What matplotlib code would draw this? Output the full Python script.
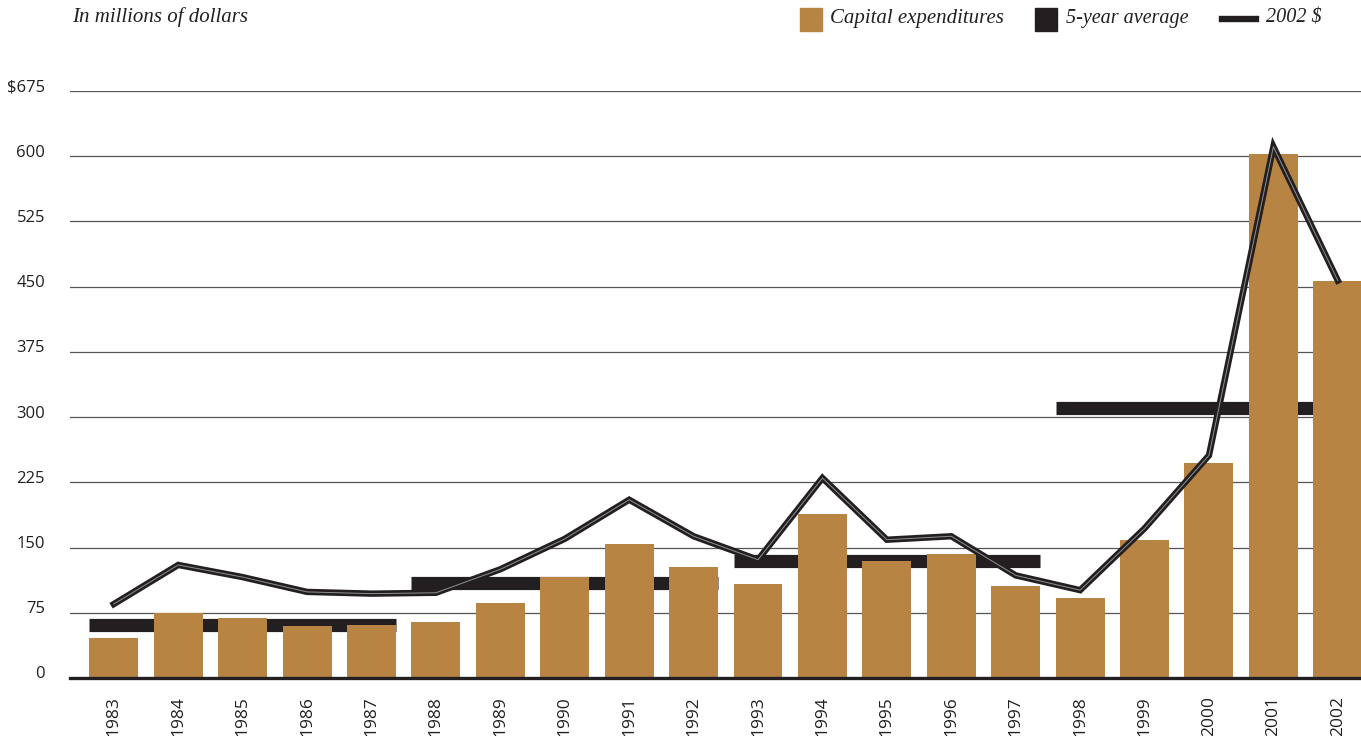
import numpy as np
import matplotlib
matplotlib.use("Agg")
from matplotlib import pyplot as plt
from matplotlib.patches import Rectangle
from matplotlib.lines import Line2D
from matplotlib.transforms import ScaledTranslation

years = [str(y) for y in range(1983, 2003)]
capex = [46, 75, 69, 60, 61, 64, 86, 116, 154, 128,
         108, 189, 135, 143, 106, 92, 159, 247, 603, 457]
real_2002 = [85, 130, 116, 99, 97, 98, 125, 160, 205, 163,
             136, 230, 159, 163, 118, 101, 172, 256, 611, 457]
avg_periods = [(0, 4), (5, 9), (10, 14), (15, 19)]
avg_values = [61, 109, 135, 310]
yticks = [0, 75, 150, 225, 300, 375, 450, 525, 600, 675]
ytick_labels = ["0", "75", "150", "225", "300", "375", "450", "525", "600", "$675"]

brown = "#B88444"
dark = "#231F20"
bar_w = 0.76

fig = plt.figure(figsize=(13.61, 7.36), dpi=100)
ax = fig.add_axes([70 / 1361, 1 - 678 / 736, 1 - 70 / 1361, (678 - 91) / 736])

x = np.arange(len(years))

# grid lines
for v in yticks[1:]:
    ax.axhline(v, color="#555555", lw=0.9, zorder=0)

# 5-year averages (behind bars)
for (a, b), v in zip(avg_periods, avg_values):
    ax.hlines(v, x[a] - bar_w / 2, x[b] + bar_w / 2, color=dark, lw=9.5, zorder=1)

ax.bar(x, capex, width=bar_w, color=brown, zorder=2)

# double line for 2002 dollars
ax.plot(x, real_2002, color=dark, lw=4.6, zorder=3, solid_joinstyle="miter")
ax.plot(x, real_2002, color="#909090", lw=0.7, zorder=4)

ax.set_xlim(-0.68, 19.36)
ax.set_ylim(0, 675)
ax.set_yticks(yticks)
ax.set_yticklabels(ytick_labels, fontfamily="Open Sans", fontsize=12, color=dark)
ax.set_xticks(x)
ax.set_xticklabels(years, rotation=90, fontfamily="Open Sans", fontsize=12.5, color=dark, va="top")
ax.tick_params(axis="y", length=0, pad=18)
ax.tick_params(axis="x", length=0, pad=13)
for lab in ax.get_yticklabels():
    lab.set_transform(lab.get_transform() + ScaledTranslation(0, 4 / 72, fig.dpi_scale_trans))
for s in ["left", "right", "top"]:
    ax.spines[s].set_visible(False)
ax.spines["bottom"].set_linewidth(2.4)
ax.spines["bottom"].set_color(dark)
ax.spines["bottom"].set_zorder(5)

fig.text(72 / 1361, 1 - 17 / 736, "In millions of dollars", fontfamily="Liberation Serif",
         fontstyle="italic", fontsize=15, color=dark, va="center", ha="left")

# legend
W, H = 1361, 736
def fx(px): return px / W
def fy(py): return 1 - py / H

fig.add_artist(Rectangle((fx(800), fy(31)), 22 / W, 23 / H, color=brown, transform=fig.transFigure))
fig.text(fx(830), fy(18), "Capital expenditures", fontfamily="Liberation Serif",
         fontstyle="italic", fontsize=15, color=dark, va="center")
fig.add_artist(Rectangle((fx(1035), fy(31)), 22 / W, 23 / H, color=dark, transform=fig.transFigure))
fig.text(fx(1066), fy(18), "5-year average", fontfamily="Liberation Serif",
         fontstyle="italic", fontsize=14.5, color=dark, va="center")
fig.add_artist(Line2D([fx(1222), fx(1256)], [fy(19), fy(19)], color=dark, lw=4.6,
                      transform=fig.transFigure))
fig.text(fx(1266), fy(18), "2002 $", fontfamily="Liberation Serif",
         fontstyle="italic", fontsize=14.5, color=dark, va="center")

fig.savefig("out.png", dpi=100)
